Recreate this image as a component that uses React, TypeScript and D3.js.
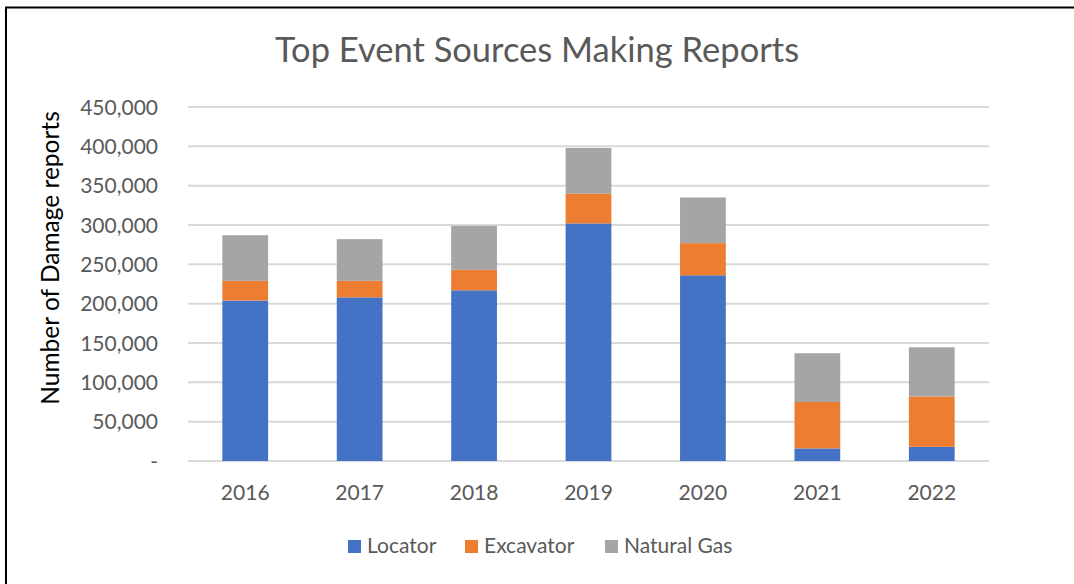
import React from 'react';
import * as d3 from 'd3';

// canvas
const width = 1074;
const height = 584;

// data
const years = ['2016', '2017', '2018', '2019', '2020', '2021', '2022'];
const locator = [204000, 208000, 217000, 302000, 236000, 16000, 18000];
const excavator = [25000, 21000, 26000, 38000, 41000, 59000, 64000];
const naturalGas = [58000, 53000, 56000, 58000, 58000, 62000, 62500];
const seriesNames = ['Locator', 'Excavator', 'Natural Gas'];
const seriesColors = ['#4472C4', '#ED7D31', '#A5A5A5'];
const yTicks = [0, 50000, 100000, 150000, 200000, 250000, 300000, 350000, 400000, 450000];

// plot area
const plotLeft = 188;
const plotRight = 989;
const plotTop = 107;
const plotBottom = 461;

const font = 'Lato, "Open Sans", sans-serif';
const textColor = '#595959';

const rows = years.map((year, i) => ({
  year,
  Locator: locator[i],
  Excavator: excavator[i],
  'Natural Gas': naturalGas[i],
}));

const stacked = d3.stack<any>().keys(seriesNames)(rows);

const x = d3.scaleBand().domain(years).range([plotLeft, plotRight]).paddingInner(0.6).paddingOuter(0.3);
const y = d3.scaleLinear().domain([0, 450000]).range([plotBottom, plotTop]);

const fmt = d3.format(',');

// legend positions (square x)
const legendX = [348, 465, 605];

const App = () => (
  <svg
    width={width}
    height={height}
    style={{ position: 'absolute', left: 0, top: 0, background: '#fff' }}
    fontFamily={font}
  >
    <rect x={0} y={0} width={width} height={height} fill="#fff" />
    {/* outer frame, runs off the right and bottom edges */}
    <rect x={6} y={7.5} width={width + 20} height={height + 20} fill="none" stroke="#000" strokeWidth={2} />

    <text x={537} y={62} textAnchor="middle" fontSize={34.5} fill={textColor}>
      Top Event Sources Making Reports
    </text>

    {/* gridlines */}
    {yTicks.map((t) => (
      <line key={t} x1={plotLeft} x2={plotRight} y1={y(t)} y2={y(t)} stroke="#D9D9D9" strokeWidth={2} />
    ))}

    {/* y tick labels */}
    {yTicks.map((t) => (
      <text key={t} x={158} y={y(t)} dy="0.36em" textAnchor="end" fontSize={21} fill={textColor}>
        {t === 0 ? '-' : fmt(t)}
      </text>
    ))}

    {/* bars */}
    {stacked.map((s, si) => (
      <g key={s.key} fill={seriesColors[si]}>
        {s.map((d, i) => (
          <rect
            key={years[i]}
            x={x(years[i])}
            width={x.bandwidth()}
            y={y(d[1])}
            height={y(d[0]) - y(d[1])}
          />
        ))}
      </g>
    ))}

    {/* x labels */}
    {years.map((yr) => (
      <text key={yr} x={(x(yr) || 0) + x.bandwidth() / 2} y={500} textAnchor="middle" fontSize={21} fill={textColor}>
        {yr}
      </text>
    ))}

    {/* y axis title */}
    <text
      transform={`translate(59,${(plotTop + plotBottom) / 2 - 26}) rotate(-90)`}
      textAnchor="middle"
      fontSize={24.5}
      fill="#000"
    >
      Number of Damage reports
    </text>

    {/* legend */}
    {seriesNames.map((name, i) => (
      <g key={name} transform={`translate(${legendX[i]},540)`}>
        <rect width={13} height={13} fill={seriesColors[i]} />
        <text x={19} y={13} fontSize={21} fill={textColor}>
          {name}
        </text>
      </g>
    ))}
  </svg>
);

export default App;
